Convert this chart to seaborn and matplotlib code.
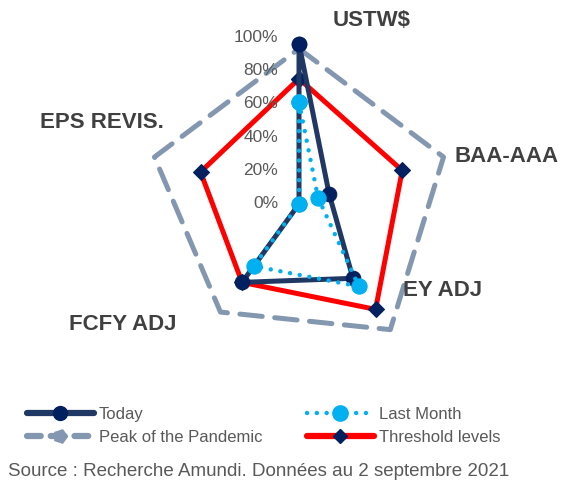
import numpy as np
import pandas as pd
import matplotlib
matplotlib.use("Agg")
import matplotlib.pyplot as plt
import matplotlib.transforms as mtransforms
from matplotlib.lines import Line2D
import seaborn as sns

# Data (percent)
categories = ["USTW$", "BAA-AAA", "EY ADJ", "FCFY ADJ", "EPS REVIS."]
today = [96, 19, 55, 58, 0]
last_month = [61, 12, 61, 46, 0]
peak = [93, 91, 93, 80, 91]
threshold = [75, 65, 78, 58, 62]
r_ticks = [0, 20, 40, 60, 80, 100]
r_tick_labels = ["0%", "20%", "40%", "60%", "80%", "100%"]

sns.set_style("white")
plt.rcParams["font.family"] = ["Liberation Sans Narrow", "Liberation Sans", "DejaVu Sans"]

W, H = 563, 483
fig = plt.figure(figsize=(W / 100, H / 100), dpi=100)

# center (299, 204) px, 100% radius 167 px
cx, cy, rad = 299, 204, 167
ax = fig.add_axes([(cx - rad) / W, (H - cy - rad) / H, 2 * rad / W, 2 * rad / H],
                  projection="polar")
ax.set_theta_zero_location("N")
ax.set_theta_direction(-1)

angles = np.linspace(0, 2 * np.pi, len(categories), endpoint=False)


def closed(values):
    return pd.DataFrame({
        "theta": list(angles) + [2 * np.pi],
        "r": list(values) + [values[0]],
    })


sns.lineplot(data=closed(peak), x="theta", y="r", ax=ax, sort=False, estimator=None,
             color="#8497B0", linewidth=3.6, linestyle=(0, (4.5, 2.5)),
             dash_capstyle="round", clip_on=False, zorder=2)
sns.lineplot(data=closed(threshold), x="theta", y="r", ax=ax, sort=False, estimator=None,
             color="#FF0000", linewidth=3.6, marker="D", markersize=8,
             markerfacecolor="#002060", markeredgecolor="#002060",
             clip_on=False, zorder=3)
sns.lineplot(data=closed(today), x="theta", y="r", ax=ax, sort=False, estimator=None,
             color="#203864", linewidth=3.6, marker="o", markersize=10.5,
             markerfacecolor="#002060", markeredgecolor="#002060",
             clip_on=False, zorder=4)
sns.lineplot(data=closed(last_month), x="theta", y="r", ax=ax, sort=False, estimator=None,
             color="#00B0F0", linewidth=3.2, linestyle=(0, (0.01, 2.2)),
             dash_capstyle="round", marker="o", markersize=11,
             markerfacecolor="#00B0F0", markeredgecolor="#00B0F0",
             clip_on=False, zorder=5)

ax.set_ylim(0, 100)
ax.set_xticks([])
ax.set_yticks([])
ax.grid(False)
ax.spines["polar"].set_visible(False)
ax.set_xlabel("")
ax.set_ylabel("")

# radial labels, right aligned just left of the top spoke
lab_tr = mtransforms.offset_copy(ax.transData, fig=fig, x=-21, y=0, units="dots")
for r, lab in zip(r_ticks, r_tick_labels):
    ax.text(0, r, lab, transform=lab_tr, ha="right", va="center",
            fontsize=12.5, color="#595959")

# category labels (pixel centers)
cat_pos = [(372, 20), (507, 156), (443, 290), (123, 325), (102, 122)]
for lab, (px, py) in zip(categories, cat_pos):
    fig.text(px / W, 1 - py / H, lab, ha="center", va="center",
             fontsize=16, fontweight="bold", color="#404040")

# legends
h_today = Line2D([], [], color="#203864", lw=4.5, marker="o", ms=10,
                 mfc="#002060", mec="#002060", solid_capstyle="round")
h_peak = Line2D([], [], color="#8497B0", lw=4.5, linestyle=(0, (2.2, 1.6)),
                dash_capstyle="round", marker=(5, 0, -90), ms=10,
                mfc="#8497B0", mec="#8497B0")
h_last = Line2D([], [], color="#00B0F0", lw=3.2, linestyle=(0, (0.01, 2.2)),
                dash_capstyle="round", marker="o", ms=11,
                mfc="#00B0F0", mec="#00B0F0")
h_thr = Line2D([], [], color="#FF0000", lw=4.5, marker="D", ms=7,
               mfc="#002060", mec="#002060", solid_capstyle="round")

leg_kw = dict(frameon=False, fontsize=12, handlelength=4.0, handletextpad=0.3,
              labelspacing=0.45, borderpad=0, borderaxespad=0, loc="upper left",
              labelcolor="#595959", numpoints=1)
fig.legend([h_today, h_peak], ["Today", "Peak of the Pandemic"],
           bbox_to_anchor=(27 / W, 1 - 407 / H), **leg_kw)
fig.legend([h_last, h_thr], ["Last Month", "Threshold levels"],
           bbox_to_anchor=(307 / W, 1 - 407 / H), **leg_kw)

fig.text(8 / W, 1 - 472 / H, "Source : Recherche Amundi. Données au 2 septembre 2021",
         ha="left", va="center", fontsize=13.5, color="#595959")

fig.savefig("out.png", dpi=100)
